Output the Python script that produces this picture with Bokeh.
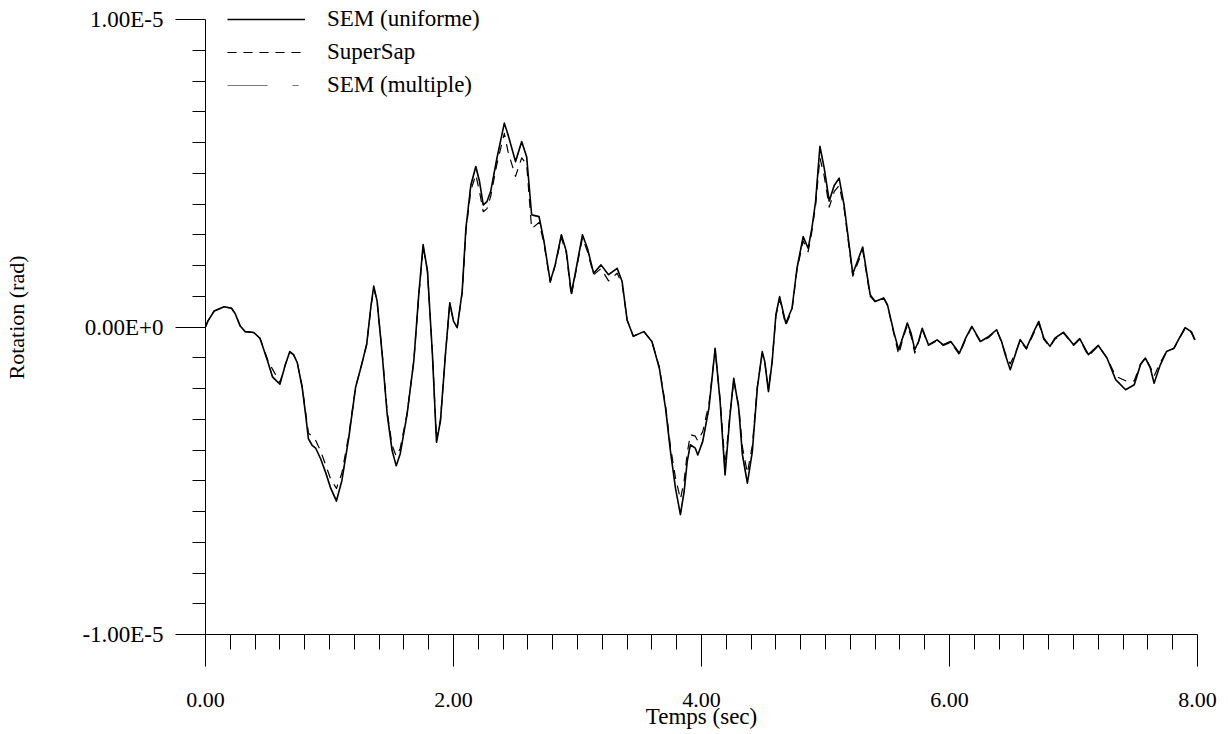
import numpy as np
from bokeh.plotting import figure
from bokeh.models import (FixedTicker, Legend, LegendItem, PrintfTickFormatter,
                          Range1d, ColumnDataSource)
from bokeh.embed import file_html
from bokeh.resources import INLINE

# ---- data (rotation values in units of 1e-6 rad) ----
time_s = [0.00, 0.02, 0.07, 0.15, 0.21, 0.24, 0.28, 0.32, 0.39, 0.44,
          0.50, 0.54, 0.60, 0.645, 0.68, 0.71, 0.74, 0.78, 0.81, 0.83,
          0.86, 0.89, 0.93, 0.97, 1.01, 1.056, 1.10, 1.156, 1.21, 1.26,
          1.30, 1.336, 1.357, 1.384, 1.425, 1.465, 1.505, 1.538, 1.57, 1.626,
          1.68, 1.72, 1.755, 1.79, 1.83, 1.863, 1.895, 1.935, 1.97, 2.00,
          2.03, 2.07, 2.10, 2.14, 2.18, 2.21, 2.24, 2.27, 2.30, 2.35,
          2.41, 2.44, 2.50, 2.55, 2.59, 2.63, 2.69, 2.73, 2.78, 2.82,
          2.87, 2.91, 2.95, 2.98, 3.04, 3.08, 3.13, 3.19, 3.25, 3.32,
          3.36, 3.40, 3.45, 3.535, 3.60, 3.66, 3.71, 3.75, 3.79, 3.83,
          3.86, 3.885, 3.91, 3.95, 3.97, 4.01, 4.06, 4.11, 4.15, 4.19,
          4.23, 4.26, 4.30, 4.33, 4.37, 4.41, 4.45, 4.49, 4.51, 4.54,
          4.57, 4.60, 4.63, 4.68, 4.73, 4.77, 4.82, 4.86, 4.89, 4.92,
          4.955, 4.99, 5.03, 5.07, 5.11, 5.15, 5.22, 5.30, 5.36, 5.40,
          5.47, 5.50, 5.55, 5.59, 5.63, 5.66, 5.69, 5.72, 5.75, 5.78,
          5.83, 5.90, 5.95, 6.01, 6.08, 6.13, 6.18, 6.25, 6.32, 6.38,
          6.42, 6.45, 6.49, 6.53, 6.57, 6.62, 6.68, 6.72, 6.76, 6.81,
          6.85, 6.92, 7.00, 7.05, 7.12, 7.20, 7.27, 7.34, 7.42, 7.49,
          7.54, 7.58, 7.62, 7.65, 7.70, 7.75, 7.81, 7.86, 7.90, 7.95,
          7.98]

sem_uniforme = [0.00, 0.20, 0.52, 0.66, 0.61, 0.43, 0.03, -0.15, -0.18, -0.37,
                -1.10, -1.62, -1.86, -1.21, -0.80, -0.90, -1.16, -1.97, -2.94, -3.64,
                -3.85, -3.95, -4.30, -4.75, -5.25, -5.66, -4.99, -3.59, -1.97, -1.21,
                -0.56, 0.74, 1.33, 0.84, -0.89, -2.83, -4.02, -4.51, -4.13, -2.83,
                -1.10, 1.06, 2.68, 1.82, -0.89, -3.75, -3.05, -0.89, 0.79, 0.19,
                -0.02, 1.15, 3.21, 4.62, 5.22, 4.73, 3.97, 4.08, 4.41, 5.49,
                6.63, 6.25, 5.38, 6.03, 5.54, 3.65, 3.59, 2.78, 1.48, 2.02,
                3.00, 2.46, 1.10, 1.70, 3.00, 2.56, 1.75, 2.02, 1.70, 1.91,
                1.48, 0.23, -0.30, -0.15, -0.47, -1.34, -2.64, -4.05, -5.24, -6.10,
                -5.35, -4.37, -3.83, -3.94, -4.16, -3.72, -2.64, -0.69, -2.42, -4.81,
                -2.86, -1.67, -2.64, -4.16, -5.08, -4.05, -1.99, -0.80, -1.12, -2.10,
                -1.12, 0.40, 0.99, 0.12, 0.61, 1.91, 2.94, 2.56, 3.21, 4.08,
                5.88, 5.16, 4.10, 4.60, 4.84, 3.96, 1.73, 2.60, 1.05, 0.83,
                0.94, 0.72, -0.15, -0.74, -0.25, 0.13, -0.20, -0.74, -0.47, -0.04,
                -0.58, -0.42, -0.58, -0.47, -0.85, -0.36, 0.02, -0.47, -0.30, -0.09,
                -0.47, -0.90, -1.39, -0.90, -0.41, -0.69, -0.15, 0.18, -0.36, -0.63,
                -0.36, -0.17, -0.58, -0.38, -0.90, -0.60, -1.01, -1.71, -2.04, -1.88,
                -1.23, -1.01, -1.34, -1.83, -1.23, -0.80, -0.69, -0.31, -0.02, -0.15,
                -0.42]

supersap = [0.00, 0.20, 0.52, 0.66, 0.61, 0.43, 0.03, -0.15, -0.18, -0.37,
            -1.05, -1.37, -1.80, -1.21, -0.82, -0.90, -1.16, -1.95, -2.85, -3.45,
            -3.55, -3.70, -4.05, -4.50, -4.95, -5.25, -4.75, -3.50, -1.97, -1.21,
            -0.56, 0.70, 1.25, 0.84, -0.85, -2.75, -3.85, -4.20, -3.95, -2.80,
            -1.10, 1.00, 2.60, 1.82, -0.85, -3.70, -3.00, -0.89, 0.75, 0.19,
            -0.02, 1.10, 3.10, 4.45, 4.95, 4.40, 3.75, 3.85, 4.25, 5.30,
            6.30, 5.70, 4.90, 5.50, 5.30, 3.20, 3.40, 2.70, 1.45, 2.00,
            2.90, 2.40, 1.00, 1.65, 2.90, 2.45, 1.70, 1.90, 1.50, 1.75,
            1.40, 0.23, -0.30, -0.15, -0.47, -1.30, -2.55, -3.90, -4.90, -5.60,
            -5.00, -4.10, -3.50, -3.55, -3.70, -3.40, -2.50, -0.75, -2.35, -4.50,
            -2.80, -1.75, -2.55, -3.90, -4.75, -3.85, -1.95, -0.85, -1.15, -2.00,
            -1.10, 0.35, 0.90, 0.05, 0.55, 1.85, 2.80, 2.45, 3.10, 3.95,
            5.50, 4.90, 3.90, 4.40, 4.60, 3.85, 1.65, 2.50, 1.00, 0.83,
            0.94, 0.70, -0.20, -0.90, -0.30, 0.05, -0.30, -0.85, -0.50, -0.08,
            -0.60, -0.45, -0.60, -0.50, -0.90, -0.40, 0.00, -0.50, -0.33, -0.10,
            -0.50, -0.85, -1.20, -0.85, -0.45, -0.72, -0.20, 0.12, -0.40, -0.65,
            -0.40, -0.20, -0.60, -0.40, -0.95, -0.62, -1.00, -1.60, -1.75, -1.75,
            -1.20, -1.00, -1.30, -1.60, -1.15, -0.80, -0.70, -0.33, -0.05, -0.18,
            -0.45]

sem_multiple = [0.00, 0.20, 0.52, 0.66, 0.61, 0.43, 0.03, -0.15, -0.18, -0.37,
                -1.10, -1.60, -1.85, -1.21, -0.80, -0.90, -1.16, -1.97, -2.92, -3.60,
                -3.82, -3.92, -4.28, -4.72, -5.22, -5.62, -4.97, -3.58, -1.97, -1.21,
                -0.56, 0.74, 1.32, 0.84, -0.89, -2.82, -4.00, -4.48, -4.10, -2.83,
                -1.10, 1.05, 2.66, 1.82, -0.89, -3.74, -3.05, -0.89, 0.79, 0.19,
                -0.02, 1.15, 3.20, 4.60, 5.20, 4.70, 3.95, 4.06, 4.40, 5.46,
                6.60, 6.22, 5.35, 6.00, 5.52, 3.63, 3.58, 2.78, 1.48, 2.02,
                3.00, 2.46, 1.10, 1.70, 2.98, 2.55, 1.75, 2.02, 1.70, 1.90,
                1.48, 0.23, -0.30, -0.15, -0.47, -1.33, -2.62, -4.02, -5.20, -6.06,
                -5.32, -4.35, -3.82, -3.92, -4.14, -3.70, -2.63, -0.70, -2.40, -4.78,
                -2.85, -1.68, -2.62, -4.14, -5.05, -4.03, -1.99, -0.81, -1.12, -2.08,
                -1.12, 0.40, 0.98, 0.12, 0.60, 1.90, 2.92, 2.55, 3.20, 4.06,
                5.85, 5.14, 4.08, 4.58, 4.82, 3.95, 1.73, 2.58, 1.05, 0.83,
                0.94, 0.72, -0.16, -0.76, -0.26, 0.12, -0.21, -0.75, -0.47, -0.05,
                -0.58, -0.42, -0.58, -0.47, -0.85, -0.36, 0.02, -0.47, -0.30, -0.09,
                -0.47, -0.90, -1.37, -0.90, -0.41, -0.69, -0.15, 0.17, -0.36, -0.63,
                -0.36, -0.17, -0.58, -0.38, -0.90, -0.60, -1.01, -1.70, -2.02, -1.86,
                -1.23, -1.01, -1.33, -1.80, -1.22, -0.80, -0.69, -0.31, -0.03, -0.15,
                -0.42]

series_labels = ["SEM (uniforme)", "SuperSap", "SEM (multiple)"]
x_major_ticks = [0, 2, 4, 6, 8]
x_minor_ticks = [0.2, 0.4, 0.6, 0.8, 1.0, 1.2, 1.4, 1.6, 1.8, 2.2, 2.4, 2.6, 2.8,
                 3.0, 3.2, 3.4, 3.6, 3.8, 4.2, 4.4, 4.6, 4.8, 5.0, 5.2, 5.4, 5.6,
                 5.8, 6.2, 6.4, 6.6, 6.8, 7.0, 7.2, 7.4, 7.6, 7.8]
y_major_ticks = [-10, 0, 10]
y_minor_ticks = [-9, -8, -7, -6, -5, -4, -3, -2, -1, 1, 2, 3, 4, 5, 6, 7, 8, 9]
y_tick_labels = {10: "1.00E-5", 0: "0.00E+0", -10: "-1.00E-5"}

FONT = "Liberation Serif"

# frame spans the full top of the page; the y axis itself is bounded to [-10, 10]
p = figure(width=1228, height=734, output_backend="svg", toolbar_location=None,
           x_range=Range1d(0, 8), y_range=Range1d(-10, 10.618),
           min_border_left=205, min_border_right=31, min_border_top=0,
           min_border_bottom=100)
p.outline_line_color = None
p.background_fill_color = "white"
p.border_fill_color = "white"
p.xgrid.visible = False
p.ygrid.visible = False

src = ColumnDataSource(dict(t=time_s, u=sem_uniforme, s=supersap, m=sem_multiple))

r_m = p.line("t", "m", source=src, line_color="#777777", line_width=1.0,
             line_dash="40 25 6 25", line_join="round")
r_s = p.line("t", "s", source=src, line_color="black", line_width=1.2,
             line_dash="9 7", line_join="round")
r_u = p.line("t", "u", source=src, line_color="black", line_width=1.6,
             line_join="round")

# X axis
xa = p.xaxis[0]
xa.ticker = FixedTicker(ticks=x_major_ticks, minor_ticks=x_minor_ticks)
xa.formatter = PrintfTickFormatter(format="%.2f")
xa.major_tick_in = 0
xa.major_tick_out = 32
xa.minor_tick_in = 0
xa.minor_tick_out = 15
xa.axis_line_color = "black"
xa.major_tick_line_color = "black"
xa.minor_tick_line_color = "black"
xa.major_label_standoff = 26
xa.major_label_text_font = FONT
xa.major_label_text_font_size = "22px"
xa.major_label_text_color = "black"
xa.axis_label = "Temps (sec)"
xa.axis_label_text_font = FONT
xa.axis_label_text_font_size = "23px"
xa.axis_label_text_font_style = "normal"
xa.axis_label_text_color = "black"
xa.axis_label_standoff = -6

# Y axis
ya = p.yaxis[0]
ya.bounds = (-10, 10)
ya.ticker = FixedTicker(ticks=y_major_ticks, minor_ticks=y_minor_ticks)
ya.major_label_overrides = y_tick_labels
ya.major_tick_in = 0
ya.major_tick_out = 30
ya.minor_tick_in = 0
ya.minor_tick_out = 13
ya.axis_line_color = "black"
ya.major_tick_line_color = "black"
ya.minor_tick_line_color = "black"
ya.major_label_standoff = 12
ya.major_label_text_font = FONT
ya.major_label_text_font_size = "23px"
ya.major_label_text_color = "black"
ya.axis_label = "Rotation (rad)"
ya.axis_label_text_font = FONT
ya.axis_label_text_font_size = "22px"
ya.axis_label_text_font_style = "normal"
ya.axis_label_text_color = "black"
ya.axis_label_standoff = 50

legend = Legend(items=[LegendItem(label=series_labels[0], renderers=[r_u]),
                       LegendItem(label=series_labels[1], renderers=[r_s]),
                       LegendItem(label=series_labels[2], renderers=[r_m])],
                location=(22, 534))
legend.glyph_width = 78
legend.glyph_height = 30
legend.label_height = 30
legend.label_standoff = 22
legend.spacing = 3
legend.padding = 0
legend.margin = 0
legend.border_line_color = None
legend.background_fill_alpha = 0
legend.label_text_font = FONT
legend.label_text_font_size = "23px"
legend.label_text_color = "black"
p.add_layout(legend)

open("out.html", "w").write(file_html(p, INLINE))
